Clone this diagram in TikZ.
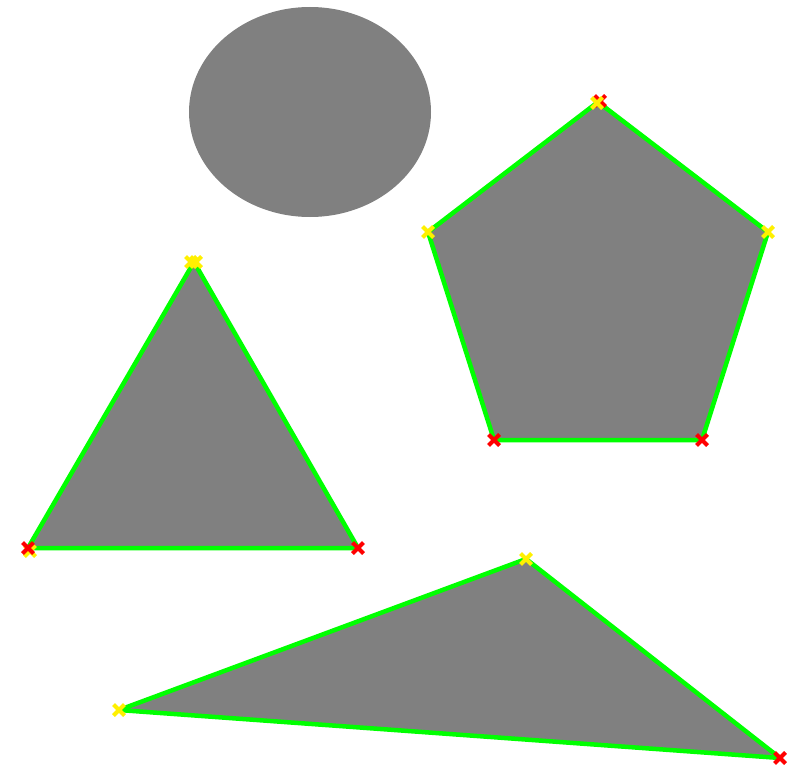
\documentclass[tikz,border=0pt]{standalone}
\begin{document}
\begin{tikzpicture}[x=1pt,y=-1pt,
  shapefill/.style={fill={rgb,255:red,128;green,128;blue,128}},
  outline/.style={draw={rgb,255:red,0;green,255;blue,0},line width=4.5pt,line join=miter,miter limit=2},
  ymark/.style={draw={rgb,255:red,255;green,240;blue,0},line width=4pt},
  rmark/.style={draw={rgb,255:red,255;green,0;blue,0},line width=4pt}]
\useasboundingbox (0,0) rectangle (800,765);
\fill[shapefill] (310,112) ellipse [x radius=121, y radius=105];
% triangle 1
\filldraw[shapefill,outline] (194,262) -- (358,548) -- (28,548) -- cycle;
% pentagon
\filldraw[shapefill,outline] (598,102) -- (768,232) -- (702,440) -- (494,440) -- (428,232) -- cycle;
% triangle 2
\filldraw[shapefill,outline] (526,559) -- (780,758) -- (119,710) -- cycle;
% markers
\newcommand{\xmark}[3]{\draw[#1] (#2-5.5,#3-5.5) -- (#2+5.5,#3+5.5) (#2-5.5,#3+5.5) -- (#2+5.5,#3-5.5);}
\xmark{ymark}{30}{551}
\xmark{rmark}{28}{548}
\xmark{rmark}{358}{548}
\xmark{ymark}{191}{262}
\xmark{ymark}{196}{262}
\xmark{rmark}{600}{101}
\xmark{ymark}{597}{103}
\xmark{ymark}{428}{232}
\xmark{ymark}{768}{232}
\xmark{rmark}{494}{440}
\xmark{rmark}{702}{440}
\xmark{ymark}{526}{559}
\xmark{ymark}{119}{710}
\xmark{rmark}{780}{758}
\end{tikzpicture}
\end{document}
